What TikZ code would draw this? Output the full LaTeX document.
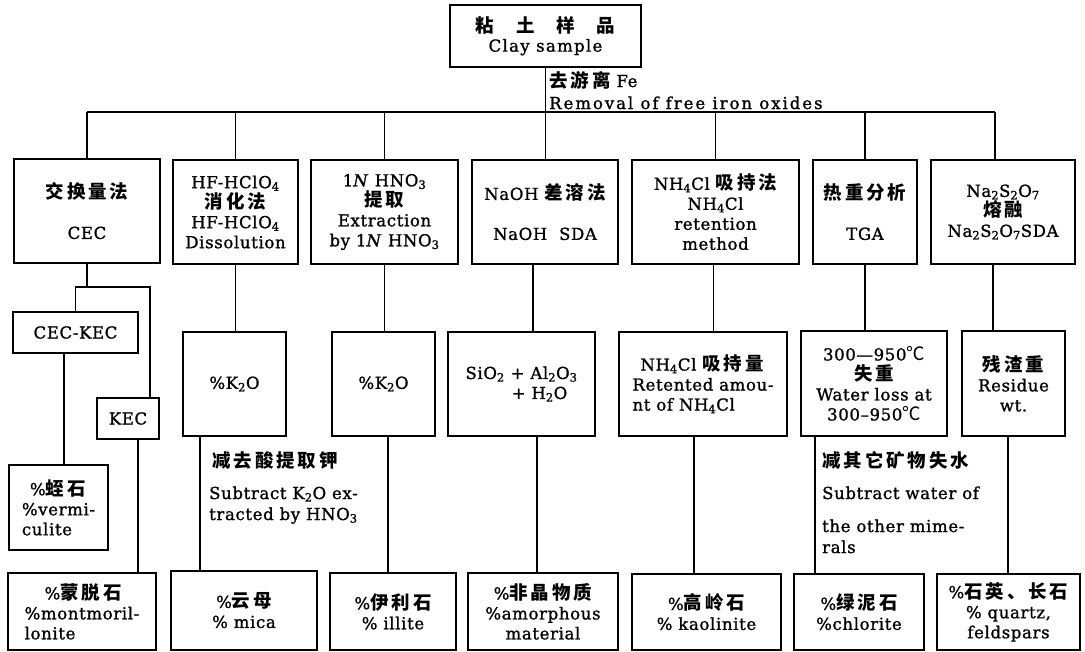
\documentclass[tikz,border=0pt]{standalone}
\usepackage{fontspec}
\setmainfont{DejaVu Serif}[LetterSpace=4,FakeBold=1.2]
\newfontfamily\cjk{Noto Sans CJK SC}[Scale=1.12,LetterSpace=16]
\newcommand{\zh}[1]{{\cjk\bfseries #1}}
\newcommand{\sbs}[1]{\textsubscript{#1}}
\newcommand{\dc}{{\cjk ℃}}
\newcommand{\mybox}[7][]{\node[box,#1,minimum width={(#5-#3)*1pt},minimum height={(#6-#4)*1pt}] (#2) at ({(#3+#5)/2},{(#4+#6)/2}) {#7};}
\begin{document}
\begin{tikzpicture}[x=1pt,y=-1pt,
  box/.style={draw,line width=2pt,inner sep=1pt,outer sep=0pt,align=center,font=\fontsize{16.5}{20}\selectfont},
  conn/.style={line width=1.8pt},
  lab/.style={inner sep=0pt,anchor=base west,font=\fontsize{16.5}{20}\selectfont}]
\useasboundingbox (0,0) rectangle (1085,651);
\clip (0,0) rectangle (1085,651);
% top
\mybox{top}{450}{5}{641}{67}{\zh{粘\hspace{22pt}土\hspace{22pt}样\hspace{22pt}品}\\[-1pt]{\addfontfeature{LetterSpace=8}Clay sample}}
% row 1
\mybox{cec}{14}{159}{160}{263}{\zh{交换量法}\\[20pt]CEC}
\mybox{hf}{173}{160}{298}{264}{HF-HClO\sbs{4}\\\zh{消化法}\\HF-HClO\sbs{4}\\Dissolution}
\mybox{hno}{311}{160}{458}{264}{1\textit{N} HNO\sbs{3}\\\zh{提取}\\Extraction\\by 1\textit{N} HNO\sbs{3}}
\mybox{naoh}{472}{160}{618}{264}{NaOH \zh{差溶法}\\[20pt]NaOH\ \ SDA}
\mybox{nh}{632}{160}{799}{264}{NH\sbs{4}Cl \zh{吸持法}\\NH\sbs{4}Cl\\retention\\method}
\mybox{tga}{813}{160}{917}{264}{\zh{热重分析}\\[20pt]TGA}
\mybox{nas}{931}{160}{1075}{264}{Na\sbs{2}S\sbs{2}O\sbs{7}\\\zh{熔融}\\Na\sbs{2}S\sbs{2}O\sbs{7}SDA}
% row 2
\mybox{ck}{13}{312}{138}{353}{CEC-KEC}
\mybox{kec}{97}{398}{159}{439}{KEC}
\mybox{k1}{183}{332}{286}{436}{\%K\sbs{2}O}
\mybox{k2}{332}{332}{435}{436}{\%K\sbs{2}O}
\mybox{si}{448}{332}{595}{436}{SiO\sbs{2} + Al\sbs{2}O\sbs{3}\\\hspace*{36pt}+ H\sbs{2}O}
\mybox[align=left]{nhr}{619}{332}{787}{436}{\hspace*{8pt}NH\sbs{4}Cl \zh{吸持量}\\Retented amou-\\nt of NH\sbs{4}Cl}
\mybox{wl}{801}{331}{947}{436}{300—950\dc\\\zh{失重}\\Water loss at\\300–950\dc}
\mybox{res}{962}{331}{1065}{436}{\zh{残渣重}\\Residue\\wt.}
% row 3
\mybox[align=left]{verm}{9}{465}{108}{550}{\hspace*{8pt}\%\zh{蛭石}\\\%vermi-\\culite}
\mybox[align=left]{mont}{8}{573}{156}{650}{\hspace*{20pt}\%\zh{蒙脱石}\\\%montmoril-\\lonite}
\mybox{mica}{171}{571}{317}{650}{\%\zh{云母}\\\% mica}
\mybox{ill}{330}{573}{456}{650}{\%\zh{伊利石}\\\% illite}
\mybox{amor}{468}{573}{618}{650}{\%\zh{非晶物质}\\\%amorphous\\material}
\mybox{kao}{632}{574}{781}{650}{\%\zh{高岭石}\\\% kaolinite}
\mybox{chl}{794}{574}{924}{650}{\%\zh{绿泥石}\\\%chlorite}
\mybox{qf}{937}{574}{1080}{650}{\%\zh{石英、长石}\\\% quartz,\\feldspars}
% labels
\node[lab] (rm1) at (549,87) {\zh{去游离} Fe};
\node[lab] (rm2) at (549,109) {\addfontfeature{LetterSpace=12}Removal of free iron oxides};
\node[lab] (s1) at (212,467) {\zh{减去酸提取钾}};
\node[lab] (s2) at (209,499) {Subtract K\sbs{2}O ex-};
\node[lab] (s3) at (209,520) {tracted by HNO\sbs{3}};
\node[lab] (t1) at (822,467) {\zh{减其它矿物失水}};
\node[lab] (t2) at (822,499) {Subtract water of};
\node[lab] (t3) at (822,532) {the other mime-};
\node[lab] (t4) at (822,553) {rals};
% connectors
\coordinate (hl) at (0,112);
\coordinate (br) at (0,287);
\draw[conn] (top.south) -- (top.south |- naoh.north);
\draw[conn] (cec.north |- hl) -- ([xshift=-8pt]nas.north |- hl);
\foreach \n in {cec,hf,hno,nh,tga}{\draw[conn] (\n.north |- hl) -- (\n.north);}
\draw[conn] ([xshift=-8pt]nas.north |- hl) -- ([xshift=-8pt]nas.north);
\draw[conn] (hf.south) -- (hf.south |- k1.north);
\draw[conn] (hno.south) -- (hno.south |- k2.north);
\draw[conn] ([xshift=-12pt]naoh.south) -- ([xshift=-12pt]naoh.south |- si.north);
\draw[conn] ([xshift=-2pt]nh.south) -- ([xshift=-2pt]nh.south |- nhr.north);
\draw[conn] (tga.south) -- (tga.south |- wl.north);
\draw[conn] ([xshift=-10pt]nas.south) -- ([xshift=-10pt]nas.south |- res.north);
\draw[conn] ([xshift=-34.5pt]k1.south) -- ([xshift=-34.5pt]k1.south |- mica.north);
\draw[conn] ([xshift=4.5pt]k2.south) -- ([xshift=4.5pt]k2.south |- ill.north);
\draw[conn] ([xshift=15.5pt]si.south) -- ([xshift=15.5pt]si.south |- amor.north);
\draw[conn] ([xshift=-9pt]nhr.south) -- ([xshift=-9pt]nhr.south |- kao.north);
\draw[conn] ([xshift=-59pt]wl.south) -- ([xshift=-59pt]wl.south |- chl.north);
\draw[conn] ([xshift=-5.5pt]res.south) -- ([xshift=-5.5pt]res.south |- qf.north);
\draw[conn] (cec.south) -- (cec.south |- br);
\draw[conn] (ck.north) -- (ck.north |- br) -- ([xshift=22pt]kec.north |- br) -- ([xshift=22pt]kec.north);
\draw[conn] ([xshift=-11.5pt]ck.south) -- ([xshift=-11.5pt]ck.south |- verm.north);
\draw[conn] ([xshift=10pt]kec.south) -- ([xshift=10pt]kec.south |- mont.north);
\end{tikzpicture}
\end{document}
